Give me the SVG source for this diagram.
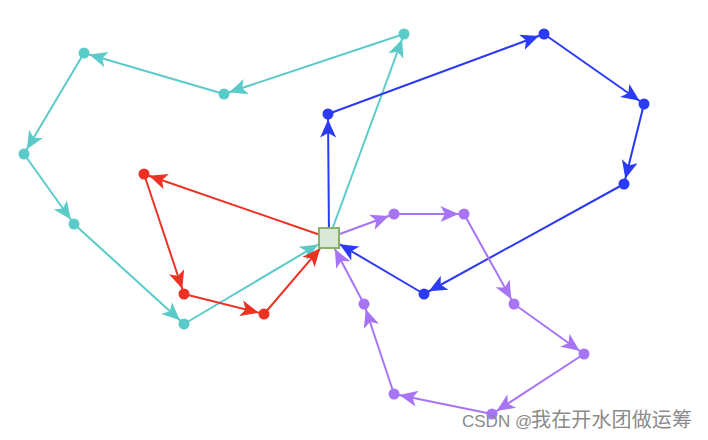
<svg xmlns="http://www.w3.org/2000/svg" width="708" height="440" viewBox="0 0 708 440">
<style>
.e{stroke-width:2;fill:none}
.c{stroke:#5bcbc9}.r{stroke:#eb3223}.b{stroke:#2b3af5}.p{stroke:#a874f6}
.cf{fill:#5bcbc9}.rf{fill:#eb3223}.bf{fill:#2b3af5}.pf{fill:#a874f6}
.c.n{marker-end:url(#mc)}.r.n{marker-end:url(#mr)}.b.n{marker-end:url(#mb)}.p.n{marker-end:url(#mp)}
.c.d{marker-end:url(#dc)}.r.d{marker-end:url(#dr)}.b.d{marker-end:url(#db)}.p.d{marker-end:url(#dp)}
.wm{font-family:"Liberation Sans","Noto Sans CJK SC",sans-serif;fill:#8a8a8a}
</style>
<defs>
<path id="ah" d="M0,0 L-18,-8 L-13.5,0 L-18,8 Z"/>
<marker id="mc" markerUnits="userSpaceOnUse" viewBox="-20 -10 22 20" markerWidth="22" markerHeight="20" refX="5.5" refY="0" orient="auto" overflow="visible"><use href="#ah" class="cf"/></marker>
<marker id="mr" markerUnits="userSpaceOnUse" viewBox="-20 -10 22 20" markerWidth="22" markerHeight="20" refX="5.5" refY="0" orient="auto" overflow="visible"><use href="#ah" class="rf"/></marker>
<marker id="mb" markerUnits="userSpaceOnUse" viewBox="-20 -10 22 20" markerWidth="22" markerHeight="20" refX="5.5" refY="0" orient="auto" overflow="visible"><use href="#ah" class="bf"/></marker>
<marker id="mp" markerUnits="userSpaceOnUse" viewBox="-20 -10 22 20" markerWidth="22" markerHeight="20" refX="5.5" refY="0" orient="auto" overflow="visible"><use href="#ah" class="pf"/></marker>
<marker id="dc" markerUnits="userSpaceOnUse" viewBox="-20 -10 22 20" markerWidth="22" markerHeight="20" refX="12.5" refY="0" orient="auto" overflow="visible"><use href="#ah" class="cf"/></marker>
<marker id="dr" markerUnits="userSpaceOnUse" viewBox="-20 -10 22 20" markerWidth="22" markerHeight="20" refX="13.5" refY="0" orient="auto" overflow="visible"><use href="#ah" class="rf"/></marker>
<marker id="db" markerUnits="userSpaceOnUse" viewBox="-20 -10 22 20" markerWidth="22" markerHeight="20" refX="12.5" refY="0" orient="auto" overflow="visible"><use href="#ah" class="bf"/></marker>
<marker id="dp" markerUnits="userSpaceOnUse" viewBox="-20 -10 22 20" markerWidth="22" markerHeight="20" refX="12.5" refY="0" orient="auto" overflow="visible"><use href="#ah" class="pf"/></marker>
</defs>
<rect width="708" height="440" fill="#fff"/>
<g id="connectors">
<line class="e c n" x1="329" y1="238" x2="404" y2="34"/>
<line class="e c n" x1="404" y1="34" x2="224" y2="94"/>
<line class="e c n" x1="224" y1="94" x2="84" y2="53"/>
<line class="e c n" x1="84" y1="53" x2="24" y2="154"/>
<line class="e c n" x1="24" y1="154" x2="74" y2="224"/>
<line class="e c n" x1="74" y1="224" x2="184" y2="324"/>
<line class="e c d" x1="184" y1="324" x2="329" y2="238"/>
<line class="e b n" x1="329" y1="238" x2="328" y2="114"/>
<line class="e b n" x1="328" y1="114" x2="544" y2="34"/>
<line class="e b n" x1="544" y1="34" x2="644" y2="104"/>
<line class="e b n" x1="644" y1="104" x2="624" y2="184"/>
<line class="e b n" x1="624" y1="184" x2="424" y2="294"/>
<line class="e b d" x1="424" y1="294" x2="329" y2="238"/>
<line class="e r n" x1="329" y1="238" x2="144" y2="174"/>
<line class="e r n" x1="144" y1="174" x2="184" y2="294"/>
<line class="e r n" x1="184" y1="294" x2="264" y2="314"/>
<line class="e r d" x1="264" y1="314" x2="329" y2="238"/>
<line class="e p n" x1="329" y1="238" x2="394" y2="214"/>
<line class="e p n" x1="394" y1="214" x2="464" y2="214"/>
<line class="e p n" x1="464" y1="214" x2="514" y2="304"/>
<line class="e p n" x1="514" y1="304" x2="584" y2="354"/>
<line class="e p n" x1="584" y1="354" x2="492" y2="414"/>
<line class="e p n" x1="492" y1="414" x2="394" y2="394"/>
<line class="e p n" x1="394" y1="394" x2="364" y2="304"/>
<line class="e p d" x1="364" y1="304" x2="329" y2="238"/>
</g>
<g id="c1" class="cf"><circle cx="404" cy="34" r="5.5"/></g>
<g id="c2" class="cf"><circle cx="224" cy="94" r="5.5"/></g>
<g id="c3" class="cf"><circle cx="84" cy="53" r="5.5"/></g>
<g id="c4" class="cf"><circle cx="24" cy="154" r="5.5"/></g>
<g id="c5" class="cf"><circle cx="74" cy="224" r="5.5"/></g>
<g id="c6" class="cf"><circle cx="184" cy="324" r="5.5"/></g>
<g id="b1" class="bf"><circle cx="328" cy="114" r="5.5"/></g>
<g id="b2" class="bf"><circle cx="544" cy="34" r="5.5"/></g>
<g id="b3" class="bf"><circle cx="644" cy="104" r="5.5"/></g>
<g id="b4" class="bf"><circle cx="624" cy="184" r="5.5"/></g>
<g id="b5" class="bf"><circle cx="424" cy="294" r="5.5"/></g>
<g id="r1" class="rf"><circle cx="144" cy="174" r="5.5"/></g>
<g id="r2" class="rf"><circle cx="184" cy="294" r="5.5"/></g>
<g id="r3" class="rf"><circle cx="264" cy="314" r="5.5"/></g>
<g id="p1" class="pf"><circle cx="394" cy="214" r="5.5"/></g>
<g id="p2" class="pf"><circle cx="464" cy="214" r="5.5"/></g>
<g id="p3" class="pf"><circle cx="514" cy="304" r="5.5"/></g>
<g id="p4" class="pf"><circle cx="584" cy="354" r="5.5"/></g>
<g id="p5" class="pf"><circle cx="492" cy="414" r="5.5"/></g>
<g id="p6" class="pf"><circle cx="394" cy="394" r="5.5"/></g>
<g id="p7" class="pf"><circle cx="364" cy="304" r="5.5"/></g>
<g id="depot"><rect x="319" y="228" width="20" height="20" fill="#d9e8d5" stroke="#88b26a" stroke-width="2"/></g>
<text class="wm" x="462" y="427" font-size="17">CSDN @</text>
<text class="wm" x="531" y="427" font-size="20" textLength="161" lengthAdjust="spacing">我在开水团做运筹</text>
</svg>
